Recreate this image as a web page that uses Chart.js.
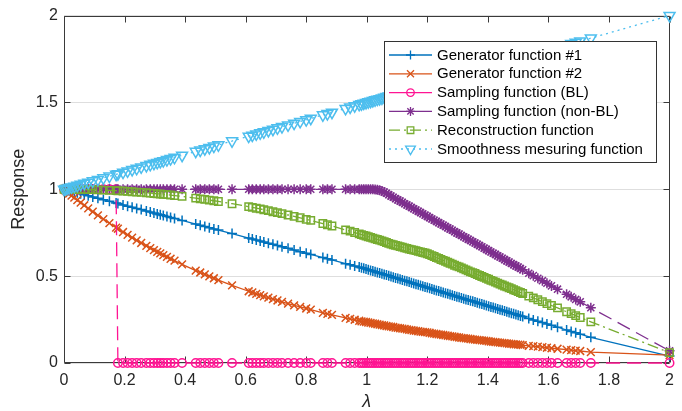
<!DOCTYPE html>
<html>
<head>
<meta charset="utf-8">
<script src="https://cdn.jsdelivr.net/npm/chart.js@4.4.1/dist/chart.umd.min.js"></script>
<style>
html,body{margin:0;padding:0;background:#fff;}
#c{display:block;}
</style>
</head>
<body>
<canvas id="c" width="682" height="411"></canvas>
<script>
// ---------------- data ----------------
const lambdas = [0,0.005,0.01,0.017,0.025,0.034,0.044,0.055,0.067,0.08,0.095,0.112,0.13,0.15,0.172,
0.178,0.195,0.21,0.225,0.24,0.255,0.272,0.285,0.297,0.308,0.318,0.328,0.34,0.352,0.365,0.39,0.435,0.45,0.465,0.48,0.495,0.51,0.555,0.61,0.622,0.635,0.648,0.66,0.675,0.69,0.705,0.72,0.74,0.76,0.78,0.8,0.815,0.855,0.87,0.885,0.93,0.945,0.96,
0.975,0.9825,0.99,0.9975,1.005,1.0125,1.02,1.0275,1.035,1.0425,1.05,1.0575,1.065,1.0725,1.08,1.0875,1.095,1.1025,1.11,1.1175,1.125,1.1325,1.14,1.1475,1.155,1.1625,1.17,1.1775,1.185,1.1925,1.2,1.2075,1.215,1.2225,1.23,1.2375,1.245,1.2525,1.26,1.2675,1.275,1.2825,1.29,1.2975,1.305,1.3125,1.32,1.3275,1.335,1.3425,1.35,1.3575,1.365,1.3725,1.38,1.3875,1.395,1.4025,1.41,1.4175,1.425,1.4325,1.44,1.4475,1.455,1.4625,1.47,1.4775,1.485,1.4925,1.5,1.5075,1.515,
1.535,1.55,1.565,1.58,1.595,1.61,1.63,1.66,1.675,1.69,1.705,1.74,2];

const generator1 = [1.000,0.998,0.995,0.992,0.989,0.984,0.980,0.975,0.969,0.963,0.956,0.948,0.940,0.931,0.921,
0.918,0.910,0.903,0.897,0.890,0.883,0.875,0.869,0.863,0.858,0.854,0.849,0.844,0.838,0.832,0.821,0.800,0.793,0.786,0.779,0.772,0.765,0.745,0.719,0.714,0.708,0.702,0.696,0.690,0.683,0.676,0.669,0.660,0.650,0.641,0.632,0.625,0.607,0.600,0.593,0.572,0.565,0.558,
0.552,0.548,0.545,0.541,0.537,0.533,0.529,0.525,0.521,0.518,0.514,0.510,0.506,0.502,0.498,0.494,0.490,0.486,0.482,0.478,0.474,0.470,0.466,0.462,0.458,0.454,0.450,0.446,0.442,0.438,0.434,0.430,0.426,0.422,0.418,0.414,0.410,0.406,0.402,0.398,0.394,0.390,0.386,0.382,0.378,0.374,0.370,0.366,0.362,0.359,0.355,0.351,0.347,0.343,0.339,0.335,0.331,0.327,0.323,0.319,0.315,0.311,0.307,0.303,0.299,0.295,0.291,0.287,0.283,0.279,0.275,0.271,0.267,
0.256,0.248,0.240,0.233,0.225,0.217,0.206,0.190,0.182,0.174,0.166,0.148,0.040];

const generator2 = [1,0.993,0.986,0.976,0.964,0.952,0.938,0.923,0.908,0.890,0.871,0.850,0.828,0.805,0.779,
0.773,0.754,0.738,0.722,0.706,0.691,0.674,0.661,0.650,0.640,0.631,0.621,0.611,0.600,0.589,0.568,0.532,0.521,0.510,0.499,0.488,0.477,0.447,0.413,0.406,0.398,0.391,0.384,0.376,0.368,0.360,0.352,0.342,0.332,0.323,0.314,0.307,0.289,0.283,0.277,0.260,0.254,0.249,
0.243,0.240,0.238,0.236,0.233,0.231,0.228,0.226,0.223,0.221,0.218,0.216,0.213,0.211,0.209,0.207,0.204,0.202,0.200,0.198,0.196,0.194,0.191,0.189,0.187,0.185,0.183,0.181,0.179,0.178,0.176,0.174,0.171,0.169,0.167,0.165,0.163,0.161,0.159,0.157,0.155,0.153,0.151,0.149,0.147,0.145,0.143,0.142,0.140,0.138,0.136,0.135,0.133,0.132,0.130,0.129,0.127,0.125,0.123,0.122,0.120,0.119,0.117,0.116,0.114,0.113,0.111,0.110,0.108,0.107,0.106,0.105,0.103,
0.099,0.097,0.094,0.091,0.088,0.085,0.082,0.077,0.074,0.071,0.069,0.063,0.045];

const samplingBL = [1,1,1,1,1,1,1,1,1,1,1,1,1,1,1,
0,0,0,0,0,0,0,0,0,0,0,0,0,0,0,0,0,0,0,0,0,0,0,0,0,0,0,0,0,0,0,0,0,0,0,0,0,0,0,0,0,0,0,
0,0,0,0,0,0,0,0,0,0,0,0,0,0,0,0,0,0,0,0,0,0,0,0,0,0,0,0,0,0,0,0,0,0,0,0,0,0,0,0,0,0,0,0,0,0,0,0,0,0,0,0,0,0,0,0,0,0,0,0,0,0,0,0,0,0,0,0,0,0,0,0,0,0,0,0,0,0,0,0,0,0,0,
0,0,0,0,0,0,0,0,0,0,0,0,0];

const samplingNonBL = [1,1,1,1,1,1,1,1,1,1,1,1,1,1,1,
1,1,1,1,1,1,1,1,1,1,1,1,1,1,1,1,1,1,1,1,1,1,1,1,1,1,1,1,1,1,1,1,1,1,1,1,1,1,1,1,1,1,1,
1,1,1,1,1,1,1,0.999,0.997,0.994,0.990,0.984,0.977,0.969,0.961,0.954,0.946,0.939,0.932,0.925,0.917,0.910,0.903,0.895,0.888,0.881,0.873,0.866,0.859,0.851,0.844,0.837,0.829,0.822,0.815,0.808,0.800,0.793,0.786,0.778,0.771,0.764,0.756,0.749,0.742,0.734,0.727,0.720,0.712,0.705,0.698,0.691,0.683,0.676,0.669,0.661,0.654,0.647,0.639,0.632,0.625,0.617,0.610,0.603,0.595,0.588,0.581,0.573,0.566,0.559,0.552,0.544,0.537,
0.517,0.503,0.488,0.474,0.459,0.444,0.425,0.396,0.381,0.366,0.352,0.318,0.07];

const reconstruction = [1,1,1,1,1,1,0.999,0.999,0.999,0.998,0.998,0.997,0.995,0.994,0.992,
0.991,0.990,0.988,0.986,0.984,0.982,0.980,0.978,0.976,0.974,0.973,0.971,0.969,0.967,0.964,0.959,0.949,0.945,0.942,0.938,0.934,0.930,0.917,0.900,0.896,0.891,0.887,0.882,0.877,0.871,0.866,0.860,0.852,0.844,0.836,0.827,0.821,0.803,0.796,0.789,0.766,0.759,0.751,
0.743,0.739,0.735,0.731,0.727,0.723,0.719,0.715,0.711,0.707,0.703,0.699,0.694,0.689,0.684,0.681,0.677,0.674,0.670,0.667,0.663,0.660,0.656,0.653,0.650,0.647,0.643,0.640,0.636,0.633,0.629,0.624,0.618,0.613,0.607,0.602,0.596,0.591,0.586,0.580,0.574,0.569,0.563,0.558,0.553,0.548,0.542,0.536,0.530,0.525,0.520,0.515,0.509,0.504,0.498,0.493,0.487,0.482,0.476,0.471,0.466,0.460,0.454,0.449,0.443,0.438,0.433,0.428,0.422,0.417,0.411,0.406,0.400,
0.385,0.375,0.364,0.353,0.342,0.331,0.317,0.295,0.284,0.273,0.262,0.237,0.06];

const smoothness = [1,1.003,1.005,1.009,1.013,1.017,1.022,1.028,1.034,1.04,1.048,1.056,1.065,1.075,1.086,
1.089,1.098,1.105,1.113,1.12,1.128,1.136,1.143,1.149,1.154,1.159,1.164,1.17,1.176,1.183,1.195,1.218,1.225,1.233,1.24,1.248,1.255,1.278,1.305,1.311,1.318,1.324,1.33,1.338,1.345,1.353,1.36,1.37,1.38,1.39,1.4,1.408,1.428,1.435,1.443,1.465,1.473,1.48,
1.488,1.491,1.495,1.499,1.503,1.506,1.51,1.514,1.518,1.521,1.525,1.529,1.533,1.536,1.54,1.544,1.548,1.551,1.555,1.559,1.563,1.566,1.57,1.574,1.578,1.581,1.585,1.589,1.593,1.596,1.6,1.604,1.608,1.611,1.615,1.619,1.623,1.626,1.63,1.634,1.638,1.641,1.645,1.649,1.653,1.656,1.66,1.664,1.668,1.671,1.675,1.679,1.683,1.686,1.69,1.694,1.698,1.701,1.705,1.709,1.713,1.716,1.72,1.724,1.728,1.731,1.735,1.739,1.743,1.746,1.75,1.754,1.758,
1.768,1.775,1.783,1.79,1.798,1.805,1.815,1.83,1.838,1.845,1.853,1.87,2];

const seriesNames = ['Generator function #1','Generator function #2','Sampling function (BL)','Sampling function (non-BL)','Reconstruction function','Smoothness mesuring function'];
const xTickValues = [0,0.2,0.4,0.6,0.8,1,1.2,1.4,1.6,1.8,2];
const xTickLabels = ['0','0.2','0.4','0.6','0.8','1','1.2','1.4','1.6','1.8','2'];
const yTickValues = [0,0.5,1,1.5,2];
const yTickLabels = ['0','0.5','1','1.5','2'];
const xTitle = 'λ';
const yTitle = 'Response';

// ---------------- styles ----------------
const FONT = "'Liberation Sans', Arial, Helvetica, sans-serif";
const AXIS_COLOR = '#262626';
const styles = [
  {color:'#0072BD', dash:[], pointStyle:'cross', radius:5, rot:0},
  {color:'#D95319', dash:[], pointStyle:'crossRot', radius:5.5, rot:0},
  {color:'#FF1493', dash:[14,7], pointStyle:'circle', radius:4.2, rot:0},
  {color:'#7E2F8E', dash:[14,7], pointStyle:'star', radius:5, rot:0},
  {color:'#77AC30', dash:[11,4,2,4], pointStyle:'rect', radius:5.2, rot:0},
  {color:'#4DBEEE', dash:[2,4], pointStyle:'triangle', radius:6.3, rot:180}
];
const seriesValues = [generator1, generator2, samplingBL, samplingNonBL, reconstruction, smoothness];

const datasets = seriesValues.map((vals, k) => ({
  label: seriesNames[k],
  data: lambdas.map((x, i) => ({x: x, y: vals[i]})),
  borderColor: styles[k].color,
  backgroundColor: 'rgba(0,0,0,0)',
  borderWidth: 1.3,
  borderDash: styles[k].dash,
  pointStyle: styles[k].pointStyle,
  pointRadius: styles[k].radius,
  pointRotation: styles[k].rot,
  pointBorderColor: styles[k].color,
  pointBackgroundColor: 'rgba(0,0,0,0)',
  pointBorderWidth: 1.5,
  tension: 0,
  fill: false,
  clip: false,
  order: 6 - k
}));

// axes box with inward ticks (MATLAB style)
const framePlugin = {
  id: 'frame',
  beforeDatasetsDraw(chart) {
    const {ctx, chartArea: a, scales: {x, y}} = chart;
    ctx.save();
    ctx.strokeStyle = '#3a3a3a';
    ctx.lineWidth = 1;
    ctx.setLineDash([]);
    const L = Math.round(a.left) + 0.5, R = Math.round(a.right) - 0.5;
    const T = Math.round(a.top) + 0.5, B = Math.round(a.bottom) - 0.5;
    ctx.beginPath();
    ctx.rect(L, T, R - L, B - T);
    xTickValues.forEach(v => {
      const px = Math.round(x.getPixelForValue(v)) + 0.5;
      ctx.moveTo(px, B); ctx.lineTo(px, B - 6);
      ctx.moveTo(px, T); ctx.lineTo(px, T + 6);
    });
    yTickValues.forEach(v => {
      const py = Math.round(y.getPixelForValue(v)) + 0.5;
      ctx.moveTo(L, py); ctx.lineTo(L + 6, py);
      ctx.moveTo(R, py); ctx.lineTo(R - 6, py);
    });
    ctx.stroke();
    ctx.restore();
  }
};

// legend drawn on top of the data
const legendPlugin = {
  id: 'mlegend',
  afterDatasetsDraw(chart) {
    const ctx = chart.ctx;
    const bx = 384.5, by = 41.5, bw = 272, bh = 121;
    ctx.save();
    ctx.setLineDash([]);
    ctx.fillStyle = '#ffffff';
    ctx.fillRect(bx, by, bw, bh);
    ctx.strokeStyle = '#333333';
    ctx.lineWidth = 1;
    ctx.strokeRect(bx, by, bw, bh);
    const rowY0 = 55, rowStep = 18.8;
    seriesNames.forEach((name, k) => {
      const yy = rowY0 + k * rowStep;
      const s = styles[k];
      ctx.save();
      ctx.strokeStyle = s.color;
      ctx.lineWidth = 1.3;
      let dash = s.dash;
      if (k === 2 || k === 3) dash = [];
      ctx.setLineDash(dash);
      ctx.beginPath();
      ctx.moveTo(389, yy); ctx.lineTo(432, yy);
      ctx.stroke();
      ctx.setLineDash([]);
      ctx.fillStyle = 'rgba(0,0,0,0)';
      ctx.lineWidth = 1.3;
      Chart.helpers.drawPoint(ctx, {pointStyle: s.pointStyle, radius: s.radius * 0.9, rotation: s.rot, borderWidth: 1.3}, 410.5, yy);
      ctx.restore();
      ctx.fillStyle = '#000000';
      ctx.font = '15px ' + FONT;
      ctx.textBaseline = 'middle';
      ctx.textAlign = 'left';
      ctx.fillText(name, 437, yy + 0.5);
    });
    ctx.restore();
  }
};

new Chart(document.getElementById('c').getContext('2d'), {
  type: 'line',
  data: { datasets: datasets },
  options: {
    responsive: false,
    animation: false,
    devicePixelRatio: 1,
    events: [],
    layout: { padding: { left: 0, top: 14, right: 8, bottom: 0 } },
    plugins: { legend: { display: false }, tooltip: { enabled: false } },
    scales: {
      x: {
        type: 'linear', min: 0, max: 2,
        afterBuildTicks: s => { s.ticks = xTickValues.map(v => ({value: v})); },
        afterFit: s => { s.height = 48; },
        grid: { display: false, drawTicks: false },
        border: { display: false },
        ticks: { color: AXIS_COLOR, font: { family: FONT, size: 16 }, padding: 8, maxRotation: 0, autoSkip: false,
                 callback: (v, i) => xTickLabels[i] },
        title: { display: true, text: xTitle, color: AXIS_COLOR, font: { family: FONT, size: 18, style: 'italic', lineHeight: 1 }, padding: { top: 0, bottom: 0 } }
      },
      y: {
        type: 'linear', min: 0, max: 2,
        afterBuildTicks: s => { s.ticks = yTickValues.map(v => ({value: v})); },
        afterFit: s => { s.width = 64; },
        grid: { color: '#dedede', lineWidth: 1, drawTicks: false },
        border: { display: false },
        ticks: { color: AXIS_COLOR, font: { family: FONT, size: 16 }, padding: 6,
                 callback: (v, i) => yTickLabels[i] },
        title: { display: true, text: yTitle, color: AXIS_COLOR, font: { family: FONT, size: 18 }, padding: { top: 8, bottom: 0 } }
      }
    }
  },
  plugins: [framePlugin, legendPlugin]
});
</script>
</body>
</html>
